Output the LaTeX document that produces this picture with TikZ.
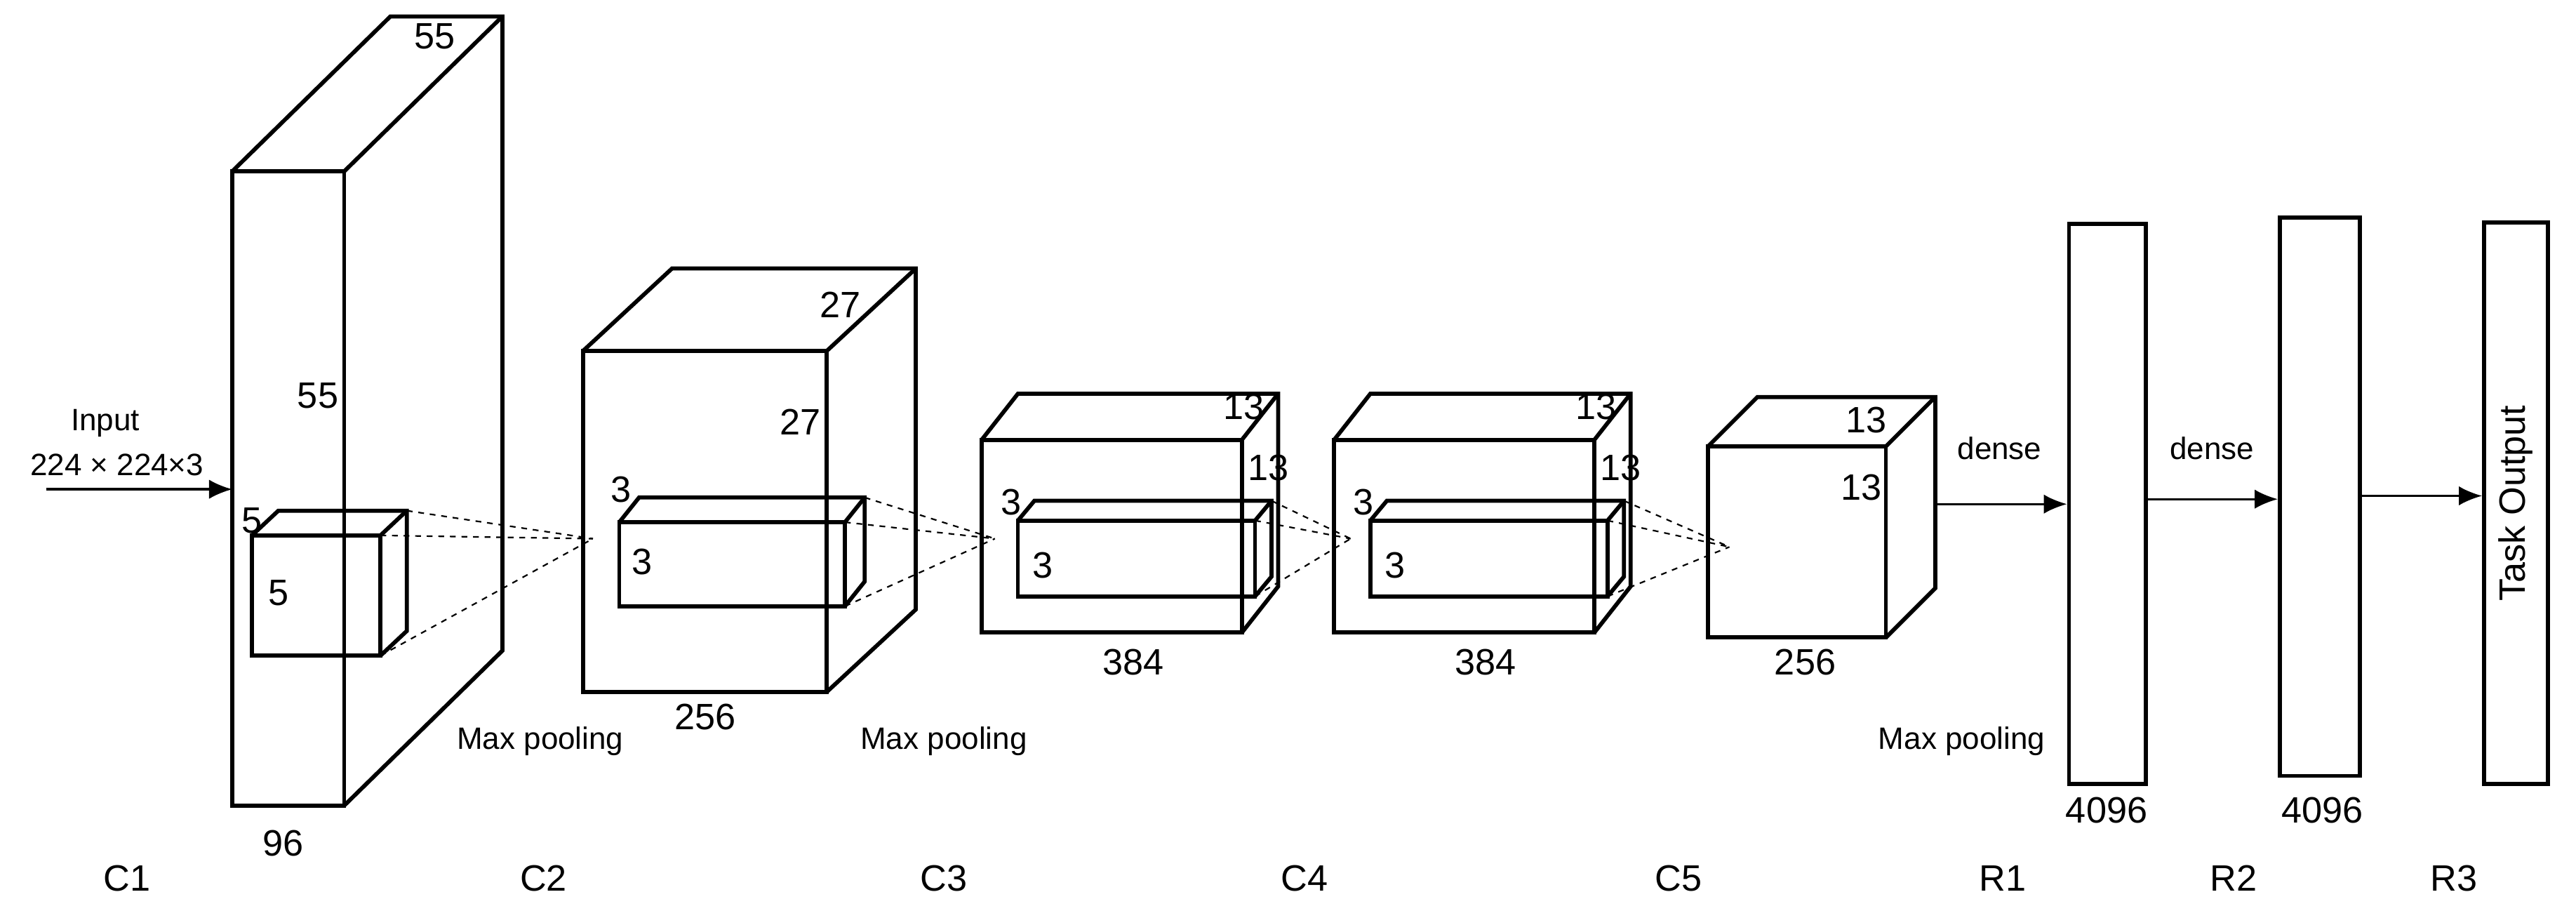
\documentclass[tikz,border=0pt]{standalone}
\usepackage{fontspec}
\setmainfont{Liberation Sans}
\usetikzlibrary{calc,arrows.meta}
\begin{document}
\begin{tikzpicture}[x=0.03cm,y=-0.03cm,
  ln/.style={line width=2.1pt,line join=miter},
  dsh/.style={dashed,line width=0.8pt},
  lb/.style={font=\fontsize{19}{21}\selectfont,inner sep=0pt},
  sm/.style={font=\fontsize{16}{18}\selectfont,inner sep=0pt},
  arr/.style={line width=1.2pt,-{Latex[length=12pt,width=10pt]}}]
\newcommand\cuboid[6]{% x1 y1 x2 y2 dx dy
  \draw[ln] (#1,#2) rectangle (#3,#4);
  \draw[ln] (#1,#2) -- ++(#5,#6) -- ($(#3,#2)+(#5,#6)$) -- ($(#3,#4)+(#5,#6)$) -- (#3,#4);
  \draw[ln] (#3,#2) -- ++(#5,#6);}
\useasboundingbox (0,0) rectangle (1564,557);
% C1
\cuboid{141}{104}{209}{489}{96}{-94}
\cuboid{153}{325}{231}{398}{16}{-15}
\coordinate (a1) at (360,327);
\draw[dsh] (247,310) -- (a1); \draw[dsh] (231,325) -- (a1); \draw[dsh] (231,398) -- (a1);
\node[lb] at (264,22) {55};
\node[lb] at (193,240) {55};
\node[lb] at (172,512) {96};
\node[lb] at (153,316) {5};
\node[lb] at (169,360) {5};
% C2
\cuboid{354}{213}{502}{420}{54}{-50}
\cuboid{376}{317}{513}{368}{12}{-15}
\coordinate (a2) at (604,327);
\draw[dsh] (525,302) -- (a2); \draw[dsh] (513,317) -- (a2); \draw[dsh] (513,368) -- (a2);
\node[lb] at (510,185) {27};
\node[lb] at (486,256) {27};
\node[lb] at (428,435) {256};
\node[lb] at (377,297) {3};
\node[lb] at (390,341) {3};
% C3
\cuboid{596}{267}{754}{384}{22}{-28}
\cuboid{618}{316}{762}{362}{10}{-12}
\coordinate (a3) at (820,327);
\draw[dsh] (772,304) -- (a3); \draw[dsh] (762,316) -- (a3); \draw[dsh] (762,362) -- (a3);
\node[lb] at (755,247) {13};
\node[lb] at (770,284) {13};
\node[lb] at (688,402) {384};
\node[lb] at (614,305) {3};
\node[lb] at (633,343) {3};
% C4
\cuboid{810}{267}{968}{384}{22}{-28}
\cuboid{832}{316}{976}{362}{10}{-12}
\coordinate (a4) at (1050,332);
\draw[dsh] (986,304) -- (a4); \draw[dsh] (976,316) -- (a4); \draw[dsh] (976,362) -- (a4);
\node[lb] at (969,247) {13};
\node[lb] at (984,284) {13};
\node[lb] at (902,402) {384};
\node[lb] at (828,305) {3};
\node[lb] at (847,343) {3};
% C5
\cuboid{1037}{271}{1145}{387}{30}{-30}
\node[lb] at (1133,255) {13};
\node[lb] at (1130,296) {13};
\node[lb] at (1096,402) {256};
% dense
\node[draw,ln,minimum width=1.4cm,minimum height=10.2cm,inner sep=0] (r1) at (1279.5,306) {};
\node[draw,ln,minimum width=1.46cm,minimum height=10.17cm,inner sep=0] (r2) at (1408.5,301.5) {};
\node[draw,ln,minimum width=1.16cm,minimum height=10.23cm,inner sep=0] (r3) at (1527.5,305.5) {};
\node[lb,rotate=90] at (r3) {Task Output};
\coordinate (c5r) at (1175,306);
\draw[arr] (c5r) -- (c5r -| r1.west);
\draw[arr] (r1.east |- 0,303) -- (r2.west |- 0,303);
\draw[arr] (r2.east |- 0,301) -- (r3.west |- 0,301);
\node[sm] at (1214,272) {dense};
\node[sm] at (1343,272) {dense};
\node[lb] at (1279,492) {4096};
\node[lb] at (1410,492) {4096};
% input
\coordinate (in) at (28,297);
\draw[arr] (in) -- (141,297);
\node[sm] at (64,257) {Input};
\node[sm] at (71,282) {224 × 224×3};
\node[sm] at (328,450) {Max pooling};
\node[sm] at (573,450) {Max pooling};
\node[sm] at (1191,450) {Max pooling};
\foreach \t/\x in {C1/77,C2/330,C3/573,C4/792,C5/1019,R1/1216,R2/1356,R3/1490}
  \node[lb] at (\x,533) {\t};
\end{tikzpicture}
\end{document}
